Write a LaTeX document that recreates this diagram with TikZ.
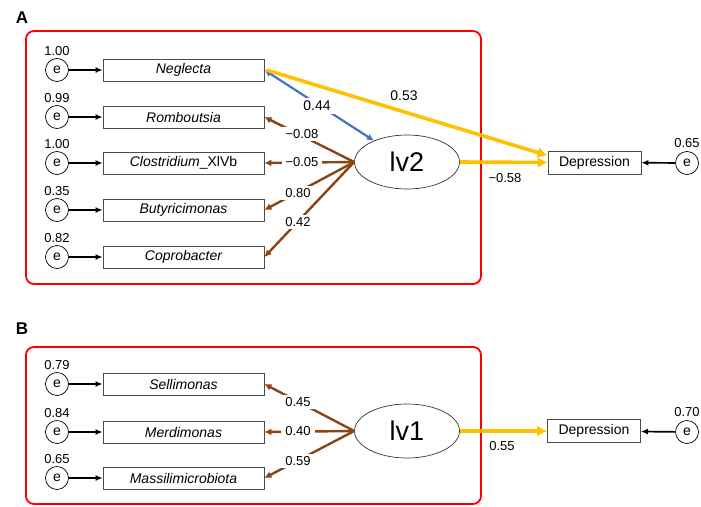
\documentclass[tikz,border=0pt]{standalone}
\usepackage{fontspec}
\setmainfont{Liberation Sans}
\usetikzlibrary{arrows.meta,shapes.geometric}
\definecolor{goldline}{RGB}{255,192,0}
\definecolor{brownline}{RGB}{139,69,19}
\definecolor{blueline}{RGB}{68,114,196}
\begin{document}
\begin{tikzpicture}[x=1pt,y=-1pt,
  var/.style={draw=black!70, line width=0.8pt, minimum width=161pt, minimum height=22pt, inner sep=0pt, font=\fontsize{14}{16}\selectfont\itshape},
  err/.style={circle, draw, line width=0.7pt, minimum size=23pt, inner sep=0pt, font=\fontsize{14}{16}\selectfont},
  depbox/.style={draw=black!70, line width=0.8pt, minimum width=93pt, minimum height=23pt, inner sep=0pt, font=\fontsize{14}{16}\selectfont},
  lat/.style={ellipse, draw=black!80, line width=0.7pt, minimum width=105pt, minimum height=54pt, inner sep=0pt, font=\fontsize{27}{30}\selectfont},
  num/.style={font=\fontsize{13}{15}\selectfont, inner sep=1pt},
  bignum/.style={font=\fontsize{14}{16}\selectfont, inner sep=1pt},
  wnum/.style={num, fill=white, inner xsep=4pt, inner ysep=2pt},
  erra/.style={draw=black, -{Latex[length=7pt,width=6pt]}, line width=1.7pt},
  loading/.style={draw=brownline, line width=2.4pt, -{Latex[length=7pt,width=7pt]}},
  ypath/.style={draw=goldline, line width=3.6pt, -{Latex[length=10pt,width=11pt]}},
  corr/.style={draw=blueline, line width=2.2pt, {Latex[length=7pt,width=7pt]}-{Latex[length=7pt,width=7pt]}},
  panel/.style={draw=red, line width=1.8pt, rounded corners=8pt},
  plabel/.style={font=\fontsize{17}{20}\selectfont\bfseries}]
\useasboundingbox (0,0) rectangle (701,506);

% ---------------- Panel A ----------------
\node[plabel] (labA) at (22,18) {A};
\draw[panel] (26,31) rectangle (481,284);

\node[var] (a1) at (183.5,70) {Neglecta};
\node[var] (a2) at (183.5,117) {Romboutsia};
\node[var] (a3) at (183.5,163) {\textit{Clostridium}\textup{\_XlVb}};
\node[var] (a4) at (183.5,210) {Butyricimonas};
\node[var] (a5) at (183.5,257) {Coprobacter};

\node[err] (ea1) at (57,70) {e};
\node[err] (ea2) at (57,117) {e};
\node[err] (ea3) at (57,163) {e};
\node[err] (ea4) at (57,210) {e};
\node[err] (ea5) at (57,257) {e};
\node[num] (va1) at (57,51) {1.00};
\node[num] (va2) at (57,98) {0.99};
\node[num] (va3) at (57,144) {1.00};
\node[num] (va4) at (57,191) {0.35};
\node[num] (va5) at (57,238) {0.82};
\foreach \i in {1,...,5} {\draw[erra] (ea\i) -- (a\i);}

\node[lat] (lv2) at (407,162) {lv2};
\node[depbox] (depA) at (594.5,162.5) {Depression};
\node[err] (eA) at (687,163) {e};
\node[num] (veA) at (687,143) {0.65};
\draw[erra] (eA) -- (depA);

\draw[loading] (lv2.west) -- (a2.east);
\draw[loading] (lv2.west) -- (a3.east);
\draw[loading] (lv2.west) -- (a4.east);
\draw[loading] (lv2.west) -- (a5.east);
\draw[corr] (a1.east) -- (lv2);
\draw[ypath] ([xshift=2pt]a1.east) -- ([yshift=7pt]depA.west);
\draw[ypath] (lv2.east) -- (depA.west);

\node[wnum] (la2) at (302,134) {−0.08};
\node[wnum] (la3) at (302,162) {−0.05};
\node[wnum] (la4) at (298,193) {0.80};
\node[wnum] (la5) at (298,222) {0.42};
\node[bignum, fill=white, inner xsep=4pt, inner ysep=3pt] (lc) at (317,106) {0.44};
\node[bignum] (l53) at (404,96) {0.53};
\node[num] (l58) at (505,178) {−0.58};

% ---------------- Panel B ----------------
\node[plabel] (labB) at (22,329) {B};
\draw[panel] (26,347) rectangle (481,504);

\node[var] (b1) at (183.5,384) {Sellimonas};
\node[var] (b2) at (183.5,432) {Merdimonas};
\node[var] (b3) at (183.5,478) {Massilimicrobiota};

\node[err] (eb1) at (57,384) {e};
\node[err] (eb2) at (57,432) {e};
\node[err] (eb3) at (57,478) {e};
\node[num] (vb1) at (57,365) {0.79};
\node[num] (vb2) at (57,413) {0.84};
\node[num] (vb3) at (57,459) {0.65};
\foreach \i in {1,2,3} {\draw[erra] (eb\i) -- (b\i);}

\node[lat] (lv1) at (407,431) {lv1};
\node[depbox] (depB) at (594,431) {Depression};
\node[err] (eB) at (687,432) {e};
\node[num] (veB) at (687,412) {0.70};
\draw[erra] (eB) -- (depB);

\draw[loading] (lv1.west) -- (b1.east);
\draw[loading] (lv1.west) -- (b2.east);
\draw[loading] (lv1.west) -- (b3.east);
\draw[ypath] (lv1.east) -- (depB.west);

\node[wnum] (lb1) at (298,402) {0.45};
\node[wnum] (lb2) at (298,431) {0.40};
\node[wnum] (lb3) at (298,461) {0.59};
\node[num] (l55) at (502,446) {0.55};
\end{tikzpicture}
\end{document}
